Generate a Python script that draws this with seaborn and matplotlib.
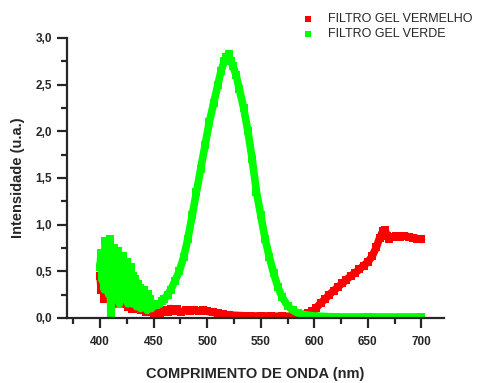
import pandas as pd
import matplotlib.pyplot as plt
import seaborn as sns
from matplotlib.ticker import MultipleLocator, FuncFormatter

# ===============================
# Spectra
# ===============================
red_nm = [400, 401, 402, 403, 404, 405, 406, 407, 408, 409, 410, 411, 412, 413,
          414, 416, 418, 420, 422, 424, 426, 428, 430, 432, 434, 436, 438, 440,
          443, 446, 450, 453, 456, 460, 463, 466, 469, 472, 476, 480, 484, 488,
          492, 496, 500, 505, 510, 515, 520, 530, 540, 550, 560, 570, 580, 588,
          594, 598, 602, 606, 610, 614, 618, 622, 626, 630, 634, 638, 642, 646,
          650, 654, 658, 661, 664, 666, 668, 670, 673, 676, 680, 684, 688, 692,
          696, 700]
red_int = [0.45, 0.30, 0.55, 0.35, 0.20, 0.50, 0.25, 0.45, 0.30, 0.50, 0.25, 0.40,
           0.45, 0.20, 0.15, 0.40, 0.20, 0.35, 0.15, 0.30, 0.12, 0.25, 0.10, 0.20,
           0.10, 0.15, 0.08, 0.12, 0.06, 0.08, 0.04, 0.06, 0.05, 0.08, 0.06, 0.10,
           0.07, 0.09, 0.06, 0.08, 0.07, 0.08, 0.07, 0.08, 0.07, 0.06, 0.05, 0.04,
           0.03, 0.025, 0.02, 0.02, 0.02, 0.015, 0.02, 0.03, 0.05, 0.07, 0.11, 0.16,
           0.20, 0.25, 0.29, 0.33, 0.37, 0.41, 0.45, 0.48, 0.52, 0.56, 0.60, 0.66,
           0.76, 0.86, 0.93, 0.94, 0.88, 0.85, 0.87, 0.88, 0.87, 0.88, 0.87, 0.86,
           0.85, 0.84]

green_nm = [400, 401, 402, 403, 404, 405, 406, 407, 408, 409, 410, 411, 412, 413,
            414, 415, 416, 417, 418, 419, 420, 421, 422, 423, 424, 425, 426, 427,
            428, 429, 430, 431, 432, 433, 434, 435, 436, 437, 438, 439, 440, 441,
            442, 443, 444, 445, 446, 447, 448, 450, 452, 455, 458, 460, 463, 466,
            470, 474, 478, 482, 486, 490, 494, 498, 502, 506, 510, 513, 516, 518,
            520, 522, 524, 527, 530, 534, 538, 542, 546, 550, 554, 558, 562, 566,
            570, 575, 580, 585, 590, 600, 620, 650, 700]
green_int = [0.55, 0.70, 0.40, 0.65, 0.30, 0.82, 0.45, 0.78, 0.25, 0.84, 0.05, 0.72,
             0.35, 0.75, 0.20, 0.68, 0.40, 0.72, 0.15, 0.62, 0.35, 0.66, 0.20, 0.58,
             0.30, 0.60, 0.15, 0.52, 0.25, 0.55, 0.15, 0.45, 0.20, 0.42, 0.12, 0.36,
             0.20, 0.32, 0.10, 0.30, 0.18, 0.30, 0.12, 0.24, 0.08, 0.26, 0.15, 0.20,
             0.10, 0.15, 0.13, 0.15, 0.18, 0.20, 0.25, 0.30, 0.40, 0.50, 0.65, 0.85,
             1.10, 1.35, 1.60, 1.85, 2.10, 2.30, 2.50, 2.65, 2.75, 2.80, 2.83, 2.75,
             2.70, 2.60, 2.45, 2.25, 2.00, 1.70, 1.35, 1.10, 0.85, 0.65, 0.48, 0.33,
             0.22, 0.13, 0.08, 0.05, 0.035, 0.02, 0.01, 0.01, 0.01]

red_df = pd.DataFrame({"nm": red_nm, "int": red_int})
green_df = pd.DataFrame({"nm": green_nm, "int": green_int})

sns.set_style("ticks")
plt.rcParams["font.family"] = ["Liberation Sans", "DejaVu Sans"]

fig = plt.figure(figsize=(4.81, 3.83), dpi=100)
ax = fig.add_axes([0.139, 0.170, 0.784, 0.731])

# red first, green drawn on top
sns.lineplot(data=red_df, x="nm", y="int", color="#ff0000", lw=5.5,
             sort=False, ax=ax, legend=False)
sns.scatterplot(data=red_df, x="nm", y="int", color="#ff0000", marker="s",
                s=34, linewidth=0, ax=ax, label="FILTRO GEL VERMELHO")
sns.lineplot(data=green_df, x="nm", y="int", color="#00ff00", lw=5.5,
             sort=False, ax=ax, legend=False)
sns.scatterplot(data=green_df, x="nm", y="int", color="#00ff00", marker="s",
                s=34, linewidth=0, ax=ax, label="FILTRO GEL VERDE")

ax.set_xlim(369, 721)
ax.set_ylim(0, 3.0)
sns.despine(ax=ax)
for side in ["left", "bottom"]:
    ax.spines[side].set_linewidth(1.6)

ax.xaxis.set_major_locator(MultipleLocator(50))
ax.xaxis.set_minor_locator(MultipleLocator(25))
ax.yaxis.set_major_locator(MultipleLocator(0.5))
ax.yaxis.set_minor_locator(MultipleLocator(0.25))
ax.yaxis.set_major_formatter(FuncFormatter(lambda v, p: f"{v:.1f}".replace(".", ",")))
ax.tick_params(which="major", direction="out", length=7, width=1.6, labelsize=8.5)
ax.tick_params(axis="x", which="major", pad=6)
ax.tick_params(which="minor", direction="out", length=4.5, width=1.6)
for lab in ax.get_xticklabels() + ax.get_yticklabels():
    lab.set_fontweight("bold")

ax.set_xlabel("COMPRIMENTO DE ONDA (nm)", fontsize=10.5, fontweight="bold", va="center")
ax.xaxis.set_label_coords(0.5, -0.2)
ax.set_ylabel("Intensidade (u.a.)", fontsize=10.5, fontweight="bold", labelpad=8)

handles, labels = ax.get_legend_handles_labels()
ax.legend(handles, labels, loc="upper left", bbox_to_anchor=(0.59, 0.995),
          bbox_transform=fig.transFigure, frameon=False, fontsize=9,
          handletextpad=0.6, labelspacing=0.25, markerscale=0.7)

fig.savefig("out.png", dpi=100)
